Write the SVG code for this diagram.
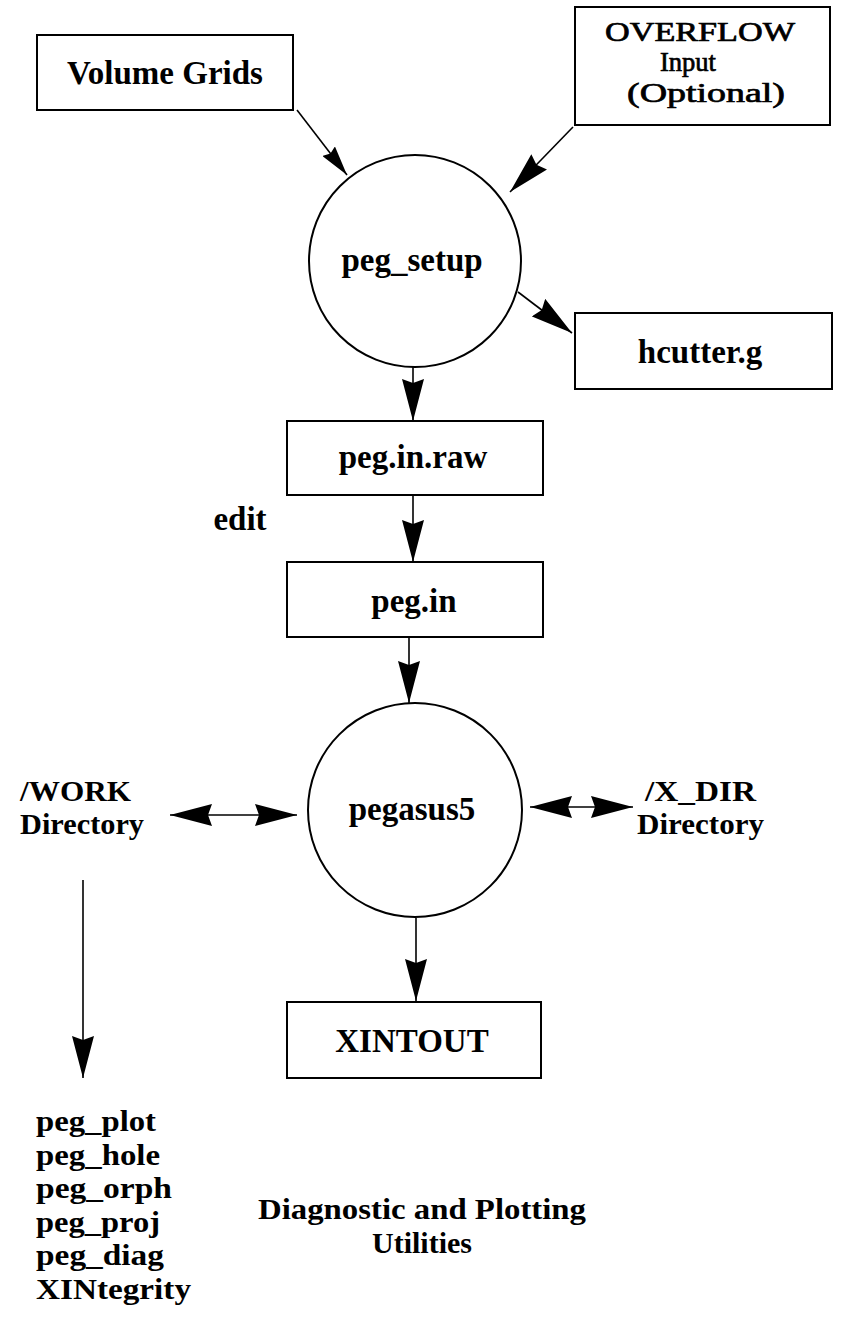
<svg xmlns="http://www.w3.org/2000/svg" width="859" height="1320" viewBox="0 0 859 1320">
  <style>
    .box { fill: #fff; stroke: #000; stroke-width: 2; }
    .circ { fill: #fff; stroke: #000; stroke-width: 2; }
    .lbl { font-family: "Liberation Serif", "Times New Roman", serif; font-weight: bold; font-size: 33px; fill: #000; }
    .lst { font-family: "Liberation Serif", "Times New Roman", serif; font-weight: bold; font-size: 30px; fill: #000; }
    .dir { font-family: "Liberation Serif", "Times New Roman", serif; font-weight: bold; font-size: 29px; fill: #000; }
    .reg { font-family: "Liberation Serif", "Times New Roman", serif; font-weight: normal; font-size: 27px; fill: #000; stroke: #000; stroke-width: 0.7; }
    .mid { text-anchor: middle; }
    .conn { fill: none; stroke: #000; stroke-width: 1.6; }
  </style>
  <defs>
    <marker id="ah" viewBox="0 0 42 22" markerWidth="42" markerHeight="22" refX="42" refY="11" orient="auto-start-reverse" markerUnits="userSpaceOnUse">
      <path d="M0,0 L42,11 L0,22 L4,11 Z" fill="#000"/>
    </marker>
    <marker id="ahs" viewBox="0 0 42 22" markerWidth="30" markerHeight="16" refX="42" refY="11" orient="auto" markerUnits="userSpaceOnUse">
      <path d="M0,0 L42,11 L0,22 L4,11 Z" fill="#000"/>
    </marker>
  </defs>
  <rect x="0" y="0" width="859" height="1320" fill="#fff"/>

  <g id="connectors">
    <path class="conn" d="M297,110 L347,175" marker-end="url(#ahs)"/>
    <path class="conn" d="M573,127 L510,192" marker-end="url(#ah)"/>
    <path class="conn" d="M518,292 L572,333" marker-end="url(#ah)"/>
    <path class="conn" d="M413,366 L413,421" marker-end="url(#ah)"/>
    <path class="conn" d="M413,495 L413,562" marker-end="url(#ah)"/>
    <path class="conn" d="M409,637 L409,703" marker-end="url(#ah)"/>
    <path class="conn" d="M416,918 L416,1001" marker-end="url(#ah)"/>
    <path class="conn" d="M170,815 L297,815" marker-start="url(#ah)" marker-end="url(#ah)"/>
    <path class="conn" d="M530,807 L633,807" marker-start="url(#ah)" marker-end="url(#ah)"/>
    <path class="conn" d="M83,880 L83,1078" marker-end="url(#ah)"/>
  </g>

  <g id="volume-grids">
    <rect class="box" x="37" y="35" width="256" height="75"/>
    <text class="lbl mid" x="165" y="84">Volume Grids</text>
  </g>

  <g id="overflow-input">
    <rect class="box" x="575" y="7" width="255" height="118"/>
    <text class="reg mid" x="700" y="41" textLength="190" lengthAdjust="spacingAndGlyphs">OVERFLOW</text>
    <text class="reg mid" x="688" y="71" textLength="56" lengthAdjust="spacingAndGlyphs">Input</text>
    <text class="reg mid" x="706" y="102" textLength="158" lengthAdjust="spacingAndGlyphs">(Optional)</text>
  </g>

  <g id="peg-setup">
    <circle class="circ" cx="415" cy="261" r="106"/>
    <text class="lbl mid" x="412" y="271">peg_setup</text>
  </g>

  <g id="hcutter">
    <rect class="box" x="575" y="313" width="257" height="76"/>
    <text class="lbl mid" x="700" y="363">hcutter.g</text>
  </g>

  <g id="peg-in-raw">
    <rect class="box" x="287" y="421" width="256" height="74"/>
    <text class="lbl mid" x="413" y="468">peg.in.raw</text>
  </g>

  <g id="edit-label">
    <text class="lbl mid" x="240" y="530">edit</text>
  </g>

  <g id="peg-in">
    <rect class="box" x="287" y="562" width="256" height="75"/>
    <text class="lbl mid" x="414" y="612">peg.in</text>
  </g>

  <g id="pegasus5">
    <circle class="circ" cx="415" cy="810" r="107"/>
    <text class="lbl mid" x="412" y="820">pegasus5</text>
  </g>

  <g id="work-dir">
    <text class="dir" x="20" y="801" textLength="111" lengthAdjust="spacingAndGlyphs">/WORK</text>
    <text class="dir" x="20" y="834" textLength="124" lengthAdjust="spacingAndGlyphs">Directory</text>
  </g>

  <g id="x-dir">
    <text class="dir" x="645" y="801" textLength="111" lengthAdjust="spacingAndGlyphs">/X_DIR</text>
    <text class="dir" x="637" y="834" textLength="127" lengthAdjust="spacingAndGlyphs">Directory</text>
  </g>

  <g id="xintout">
    <rect class="box" x="287" y="1002" width="254" height="76"/>
    <text class="lbl mid" x="412" y="1052">XINTOUT</text>
  </g>

  <g id="utilities-list">
    <text class="lst" x="36" y="1131" textLength="120" lengthAdjust="spacingAndGlyphs">peg_plot</text>
    <text class="lst" x="36" y="1164.5" textLength="124" lengthAdjust="spacingAndGlyphs">peg_hole</text>
    <text class="lst" x="36" y="1198" textLength="136" lengthAdjust="spacingAndGlyphs">peg_orph</text>
    <text class="lst" x="36" y="1231.5" textLength="124" lengthAdjust="spacingAndGlyphs">peg_proj</text>
    <text class="lst" x="36" y="1265" textLength="128" lengthAdjust="spacingAndGlyphs">peg_diag</text>
    <text class="lst" x="36" y="1298.5" textLength="155" lengthAdjust="spacingAndGlyphs">XINtegrity</text>
  </g>

  <g id="diagnostic-label">
    <text class="lst mid" x="422" y="1219" textLength="328" lengthAdjust="spacingAndGlyphs">Diagnostic and Plotting</text>
    <text class="lst mid" x="422" y="1252.5">Utilities</text>
  </g>
</svg>
